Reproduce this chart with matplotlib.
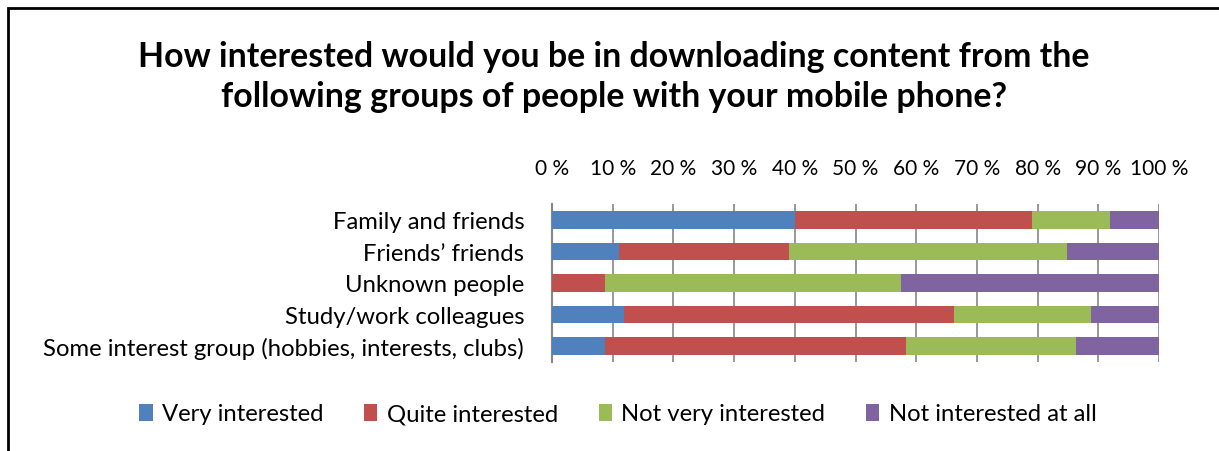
import matplotlib
matplotlib.use("Agg")
import matplotlib.pyplot as plt
import numpy as np
from matplotlib.patches import Rectangle, Patch
from matplotlib.ticker import FuncFormatter

plt.rcParams['font.family'] = ['Lato', 'DejaVu Sans']

categories = ["Family and friends", "Friends\u2019 friends", "Unknown people",
              "Study/work colleagues", "Some interest group (hobbies, interests, clubs)"]
very_interested = [40.0, 11.1, 0.0, 11.9, 8.8]
quite_interested = [39.1, 28.0, 8.8, 54.4, 49.6]
not_very_interested = [12.9, 45.7, 48.7, 22.5, 27.9]
not_interested_at_all = [8.0, 15.2, 42.5, 11.2, 13.7]

series = ["Very interested", "Quite interested", "Not very interested", "Not interested at all"]
colors = ["#4F81BD", "#C0504D", "#9BBB59", "#8064A2"]
ticks = np.arange(0, 101, 10)

fig = plt.figure(figsize=(12.19, 4.52), dpi=100)
ax = fig.add_axes([552 / 1219, 1 - 363 / 452, 607 / 1219, 158 / 452])

y = np.arange(len(categories))
left = np.zeros(len(categories))
for vals, name, c in zip([very_interested, quite_interested, not_very_interested, not_interested_at_all],
                         series, colors):
    ax.barh(y, vals, left=left, height=0.56, color=c, label=name, zorder=3)
    left += np.array(vals)

ax.set_xlim(0, 100)
ax.set_ylim(len(categories) - 0.5, -0.5)
ax.set_xticks(ticks)
ax.xaxis.set_major_formatter(FuncFormatter(lambda v, p: f"{int(v)} %"))
ax.xaxis.tick_top()
ax.tick_params(axis='x', length=0, pad=18.5, labelsize=15)
ax.tick_params(axis='y', length=0, pad=20, labelsize=17.2)
ax.set_yticks(y)
ax.set_yticklabels(categories)
ax.grid(axis='x', color='#868686', lw=1.2, zorder=0)
for s in ['top', 'right', 'bottom']:
    ax.spines[s].set_visible(False)
ax.spines['left'].set_color('#868686')
ax.spines['left'].set_linewidth(1.5)

fig.text(614 / 1219, 1 - 77 / 452,
         "How interested would you be in downloading content from the\nfollowing groups of people with your mobile phone?",
         ha='center', va='center', fontsize=24.4, fontweight='bold', linespacing=1.3)

handles = [Patch(facecolor=c, label=n) for n, c in zip(series, colors)]
fig.legend(handles=handles, loc='center', bbox_to_anchor=(618 / 1219, 1 - 415 / 452),
           ncol=4, frameon=False, fontsize=17.2, handlelength=0.55, handleheight=0.7,
           handletextpad=0.4, columnspacing=1.7)

fig.add_artist(Rectangle((7.5 / 1219, -0.1), 1.2, 1.1 - 9 / 452, transform=fig.transFigure,
                         fill=False, ec='black', lw=2))

fig.savefig("out.png", dpi=100, facecolor='white')
